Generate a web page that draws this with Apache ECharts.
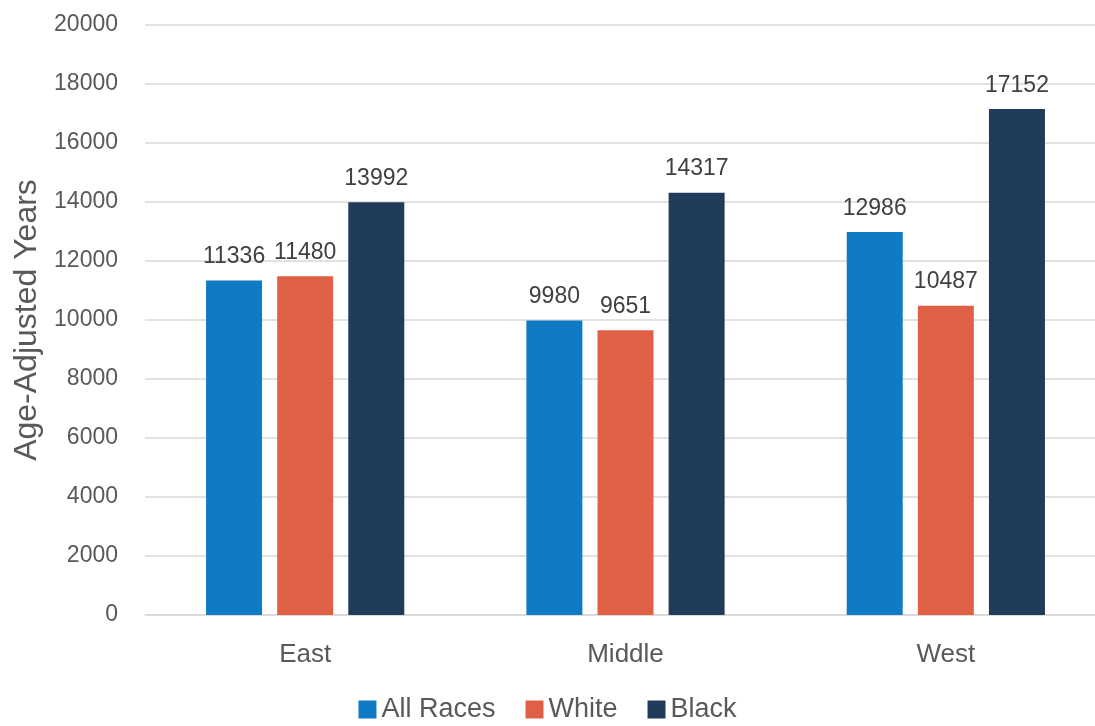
<!DOCTYPE html>
<html>
<head>
<meta charset="utf-8">
<script src="https://cdn.jsdelivr.net/npm/echarts@6/dist/echarts.min.js"></script>
<style>
  html, body { margin: 0; padding: 0; background: #fff; }
  #chart { width: 1095px; height: 726px; }
</style>
</head>
<body>
<div id="chart"></div>
<script>
const regions = ['East', 'Middle', 'West']
const allRaces = [11336, 9980, 12986]
const white = [11480, 9651, 10487]
const black = [13992, 14317, 17152]

const font = "'Liberation Sans', 'DejaVu Sans', sans-serif"

const chart = echarts.init(document.getElementById('chart'))

const makeSeries = (name, data, color) => ({
  name,
  type: 'bar',
  data,
  barWidth: 56,
  barGap: '27%',
  itemStyle: { color },
  label: {
    show: true,
    position: 'top',
    distance: 12,
    color: '#404040',
    fontSize: 23,
    fontFamily: font
  }
})

chart.setOption({
  animation: false,
  textStyle: { fontFamily: font },
  // plot area runs a little past the right edge, as in the source image
  grid: { left: 145, right: -11, top: 25, bottom: 111, outerBoundsMode: 'none' },
  legend: {
    bottom: -2,
    left: 'center',
    itemWidth: 18,
    itemHeight: 18,
    itemGap: 30,
    icon: 'rect',
    textStyle: { color: '#595959', fontSize: 27, fontFamily: font }
  },
  xAxis: {
    type: 'category',
    data: regions,
    axisTick: { show: false },
    axisLine: { lineStyle: { color: '#d9d9d9', width: 1.5 } },
    axisLabel: { color: '#595959', fontSize: 26, margin: 27, fontFamily: font }
  },
  yAxis: {
    type: 'value',
    min: 0,
    max: 20000,
    interval: 2000,
    name: 'Age-Adjusted Years',
    nameLocation: 'middle',
    nameGap: 98,
    nameTextStyle: { color: '#595959', fontSize: 32, fontFamily: font },
    axisLine: { show: false },
    axisTick: { show: false },
    axisLabel: {
      color: '#595959',
      fontSize: 23,
      margin: 27,
      fontFamily: font,
      formatter: (v) => String(v)
    },
    splitLine: { lineStyle: { color: '#d9d9d9', width: 1.5 } }
  },
  series: [
    makeSeries('All Races', allRaces, '#0f7bc4'),
    makeSeries('White', white, '#e06046'),
    makeSeries('Black', black, '#213c5b')
  ]
})
</script>
</body>
</html>
